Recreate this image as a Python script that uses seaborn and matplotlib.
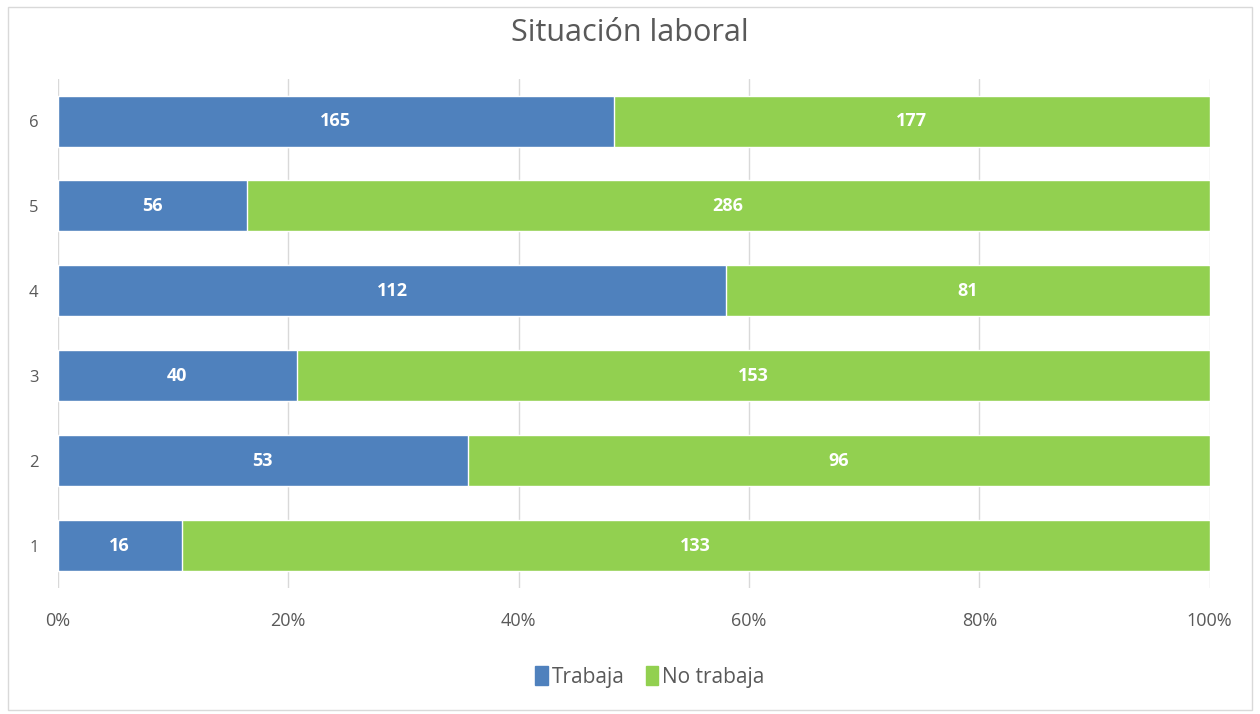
import numpy as np
import pandas as pd
import matplotlib
matplotlib.use("Agg")
import matplotlib.pyplot as plt
import seaborn as sns
from matplotlib.patches import Patch

# data
grupos = ["1", "2", "3", "4", "5", "6"]
trabaja = [16, 53, 40, 112, 56, 165]
no_trabaja = [133, 96, 153, 81, 286, 177]

BLUE = "#4F81BD"
GREEN = "#92D050"
GREY = "#595959"

sns.set_theme(style="white")
plt.rcParams["font.family"] = ["Open Sans", "DejaVu Sans"]

df = pd.DataFrame({"grupo": grupos, "trabaja": trabaja, "no_trabaja": no_trabaja})
df["total"] = df["trabaja"] + df["no_trabaja"]
df["p_trabaja"] = df["trabaja"] / df["total"]
df["p_total"] = df["total"] / df["total"]

orden = grupos[::-1]

fig = plt.figure(figsize=(12.6, 7.14), dpi=100)
ax = fig.add_axes([0.046, 0.176, 0.914, 0.714])

# green = whole bar, blue drawn over it from 0
sns.barplot(data=df, x="p_total", y="grupo", order=orden, orient="h",
            color=GREEN, saturation=1, width=0.6, ax=ax, zorder=2)
sns.barplot(data=df, x="p_trabaja", y="grupo", order=orden, orient="h",
            color=BLUE, saturation=1, width=0.6, ax=ax, zorder=3)

# value labels
for i, g in enumerate(orden):
    row = df[df["grupo"] == g].iloc[0]
    p = row["p_trabaja"]
    ax.text(p / 2, i, str(row["trabaja"]), ha="center", va="center",
            color="white", fontsize=13, fontweight="bold", zorder=4)
    ax.text(p + (1 - p) / 2, i, str(row["no_trabaja"]), ha="center", va="center",
            color="white", fontsize=13, fontweight="bold", zorder=4)

ax.set_xlim(0, 1)
ax.set_ylim(5.5, -0.5)
ax.set_xticks(np.linspace(0, 1, 6))
ax.set_xticklabels([f"{int(v*100)}%" for v in np.linspace(0, 1, 6)])
ax.tick_params(axis="x", colors=GREY, labelsize=13, length=0, pad=17)
ax.tick_params(axis="y", colors=GREY, labelsize=12, length=0, pad=14)
ax.set_xlabel("")
ax.set_ylabel("")
ax.grid(axis="x", color="#D9D9D9", linewidth=1, zorder=0)
for s in ax.spines.values():
    s.set_visible(False)

fig.suptitle("Situación laboral", y=0.975, fontsize=22, color=GREY)

handles = [Patch(color=BLUE, label="Trabaja"), Patch(color=GREEN, label="No trabaja")]
fig.legend(handles=handles, loc="center", bbox_to_anchor=(0.516, 0.052), ncol=2,
           frameon=False, fontsize=15, handlelength=0.6, handleheight=1.0,
           handletextpad=0.2, columnspacing=1.0, labelcolor=GREY)

# light frame around chart area
fig.patches.append(plt.Rectangle((0.006, 0.006), 0.988, 0.984, transform=fig.transFigure,
                                 fill=False, edgecolor="#D9D9D9", linewidth=1))

fig.savefig("out.png", dpi=100)
